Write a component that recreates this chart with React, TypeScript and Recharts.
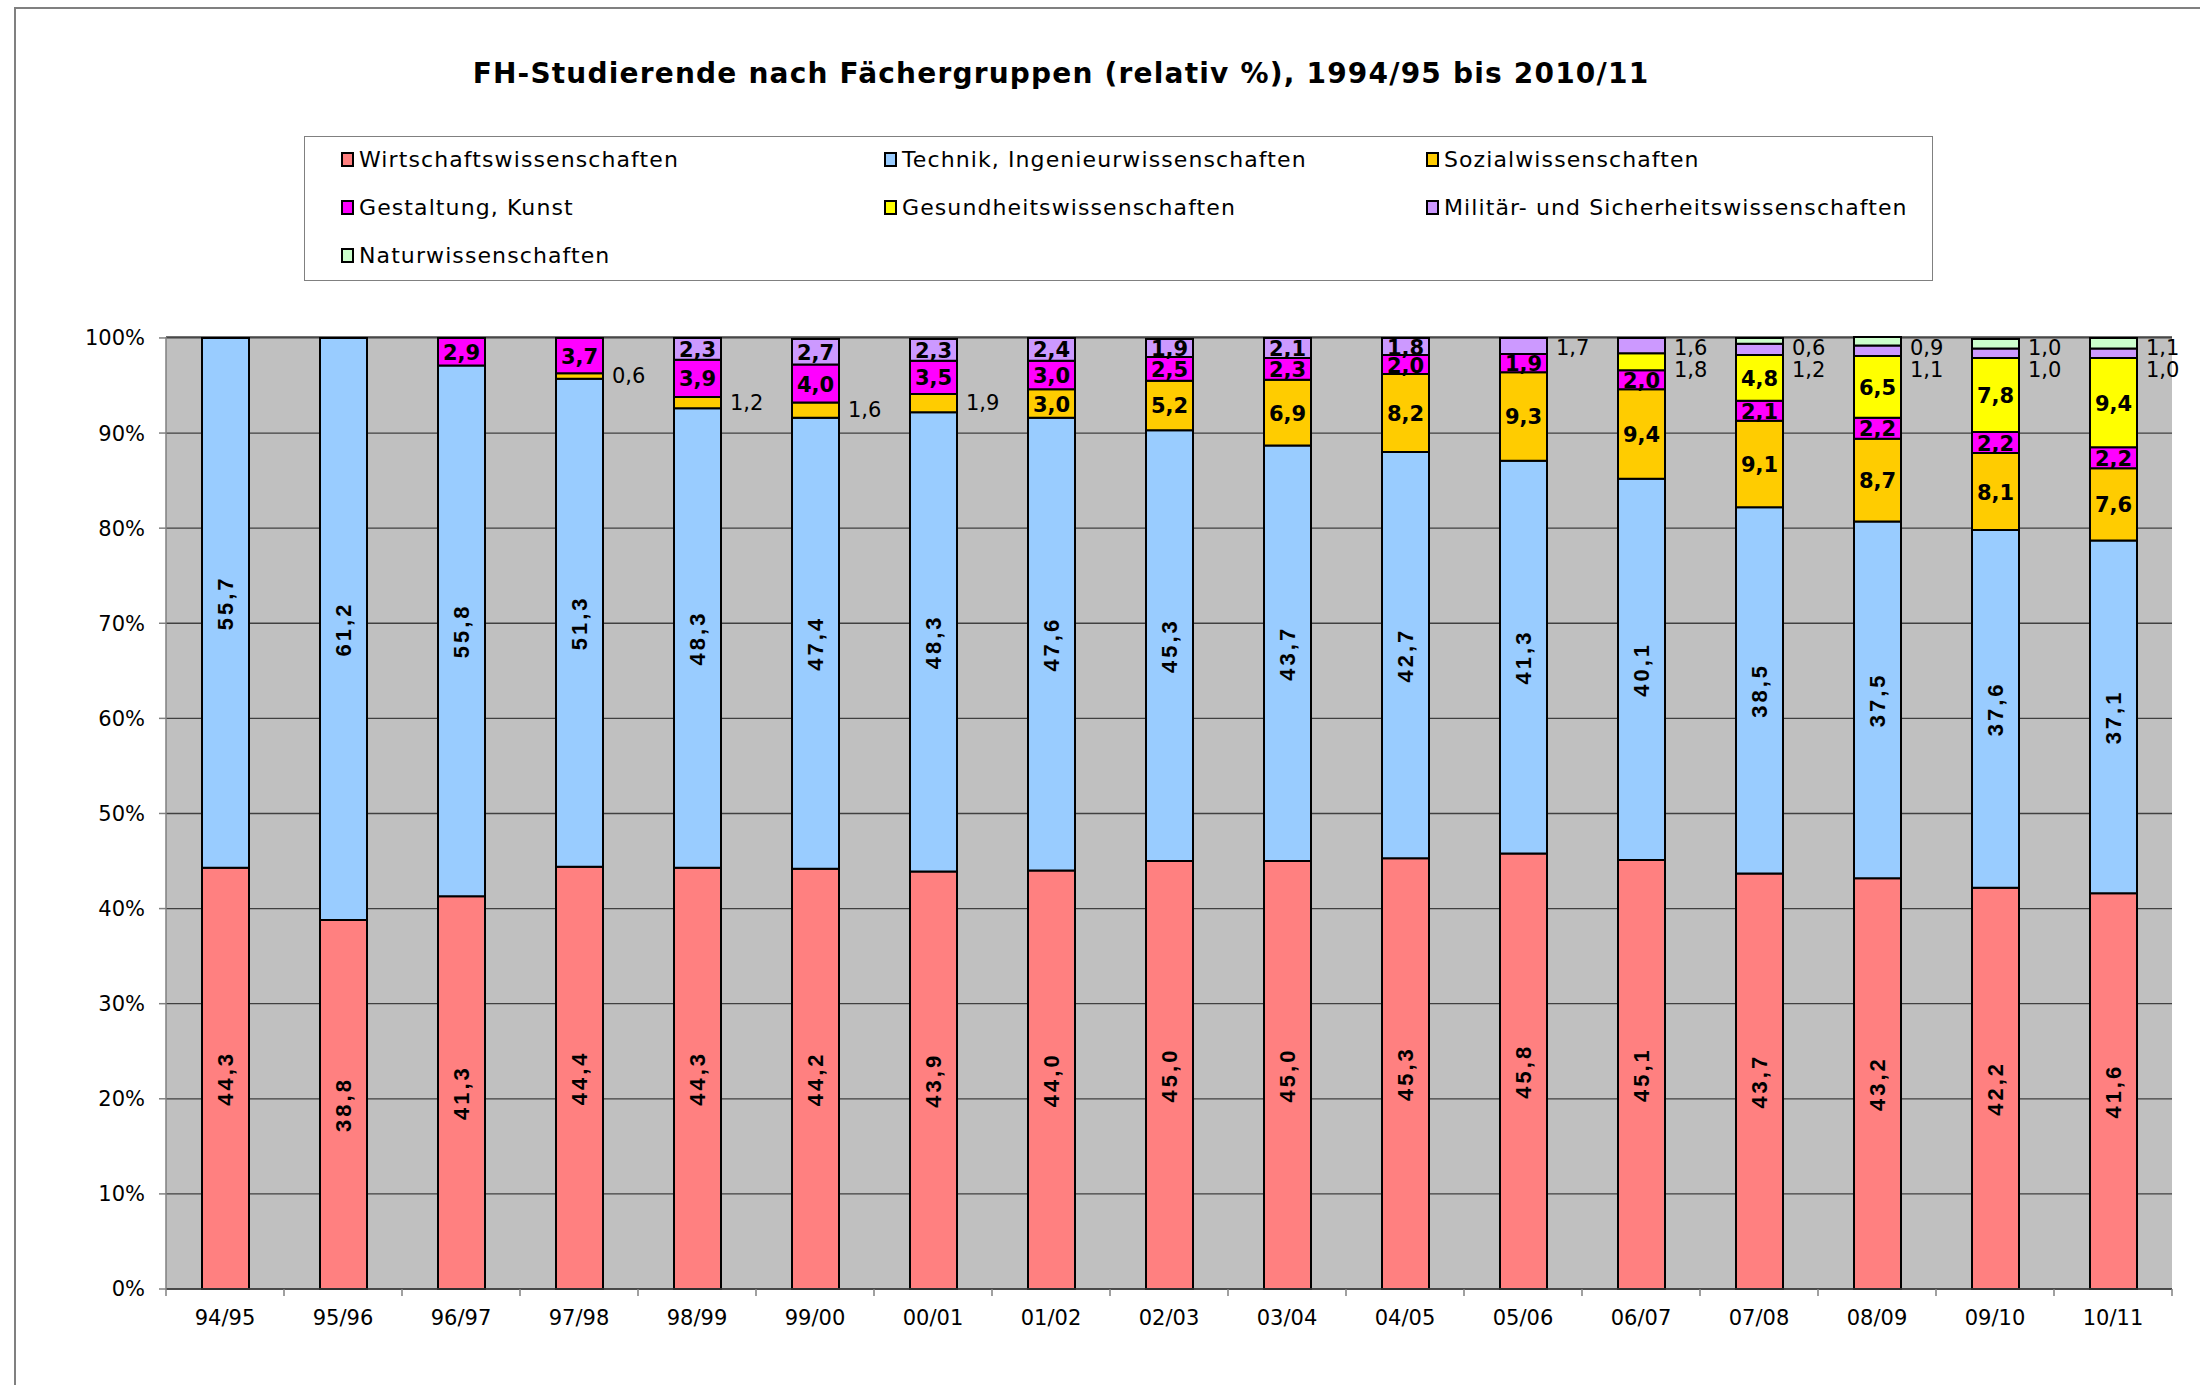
import React from "react";
import { BarChart, Bar, XAxis, YAxis, CartesianGrid, LabelList } from "recharts";

// Studienjahre
const categories = [
  "94/95", "95/96", "96/97", "97/98", "98/99", "99/00", "00/01", "01/02", "02/03",
  "03/04", "04/05", "05/06", "06/07", "07/08", "08/09", "09/10", "10/11",
];

// Anteile in % je Fächergruppe
const wirtschaft = [44.3, 38.8, 41.3, 44.4, 44.3, 44.2, 43.9, 44.0, 45.0, 45.0, 45.3, 45.8, 45.1, 43.7, 43.2, 42.2, 41.6];
const technik = [55.7, 61.2, 55.8, 51.3, 48.3, 47.4, 48.3, 47.6, 45.3, 43.7, 42.7, 41.3, 40.1, 38.5, 37.5, 37.6, 37.1];
const sozial = [0, 0, 0, 0.6, 1.2, 1.6, 1.9, 3.0, 5.2, 6.9, 8.2, 9.3, 9.4, 9.1, 8.7, 8.1, 7.6];
const gestaltung = [0, 0, 2.9, 3.7, 3.9, 4.0, 3.5, 3.0, 2.5, 2.3, 2.0, 1.9, 2.0, 2.1, 2.2, 2.2, 2.2];
const gesundheit = [0, 0, 0, 0, 0, 0, 0, 0, 0, 0, 0, 0, 1.8, 4.8, 6.5, 7.8, 9.4];
const militaer = [0, 0, 0, 0, 2.3, 2.7, 2.3, 2.4, 1.9, 2.1, 1.8, 1.7, 1.6, 1.2, 1.1, 1.0, 1.0];
const natur = [0, 0, 0, 0, 0, 0, 0, 0, 0, 0, 0, 0, 0, 0.6, 0.9, 1.0, 1.1];

const yTicks = [0, 10, 20, 30, 40, 50, 60, 70, 80, 90, 100];

// labels that sit to the right of the bar instead of inside
const outsideLabels: Record<string, string[]> = {
  sozial: ["97/98", "98/99", "99/00", "00/01"],
  gesundheit: ["06/07"],
  militaer: ["05/06", "06/07", "07/08", "08/09", "09/10", "10/11"],
  natur: ["07/08", "08/09", "09/10", "10/11"],
};

const series = [
  { key: "wirtschaft", name: "Wirtschaftswissenschaften", color: "#FF8080", values: wirtschaft, rotated: true },
  { key: "technik", name: "Technik, Ingenieurwissenschaften", color: "#99CCFF", values: technik, rotated: true },
  { key: "sozial", name: "Sozialwissenschaften", color: "#FFCC00", values: sozial },
  { key: "gestaltung", name: "Gestaltung, Kunst", color: "#FF00FF", values: gestaltung },
  { key: "gesundheit", name: "Gesundheitswissenschaften", color: "#FFFF00", values: gesundheit },
  { key: "militaer", name: "Militär- und Sicherheitswissenschaften", color: "#CC99FF", values: militaer },
  { key: "natur", name: "Naturwissenschaften", color: "#CCFFCC", values: natur },
];

const data = categories.map((cat, i) => {
  const row: Record<string, any> = { cat };
  series.forEach((s) => (row[s.key] = s.values[i]));
  return row;
});

const WIDTH = 2200;
const HEIGHT = 1385;
const PLOT_LEFT = 166;
const PLOT_RIGHT = 2172;
const PLOT_TOP = 337;
const PLOT_BOTTOM = 1289;
const BAND = (PLOT_RIGHT - PLOT_LEFT) / categories.length;

const FONT = "'DejaVu Sans', Verdana, sans-serif";
const fmt = (v: number) => v.toFixed(1).replace(".", ",");
const isOutside = (key: string, cat: string) => (outsideLabels[key] || []).includes(cat);

const makeLabel = (si: number) => (props: any) => {
  const vb = props.viewBox || props;
  const x = Number(vb.x);
  const y = Number(vb.y);
  const width = Number(vb.width);
  const height = Number(vb.height);
  if (!(height > 0)) return null;
  const cx = x + width / 2;
  const cy = y + height / 2;
  // zero-height bars are skipped by the label list, so find the category from the bar position
  const i = Math.min(categories.length - 1, Math.max(0, Math.floor((cx - PLOT_LEFT) / BAND)));
  const s = series[si];
  const v = s.values[i];
  if (!v) return null;
  const cat = categories[i];

  if (isOutside(s.key, cat)) {
    // place outside labels top-down, keeping them apart
    const unit = height / v;
    let cumBelow = 0;
    for (let j = 0; j < si; j++) cumBelow += series[j].values[i];
    const base = y + height + cumBelow * unit;
    const top = base - 100 * unit;
    let prev: number | null = null;
    let myY = cy;
    for (let j = series.length - 1; j >= 0; j--) {
      const vj = series[j].values[i];
      if (!vj || !isOutside(series[j].key, cat)) continue;
      let cum = 0;
      for (let k = 0; k <= j; k++) cum += series[k].values[i];
      const center = base - (cum - vj / 2) * unit;
      const yy = Math.max(center, prev === null ? top + 10 : prev + 22);
      prev = yy;
      if (j === si) {
        myY = yy;
        break;
      }
    }
    return (
      <text x={x + width + 9} y={myY} dominantBaseline="central" fontFamily={FONT} fontSize={21} fill="#000">
        {fmt(v)}
      </text>
    );
  }

  if (s.rotated) {
    return (
      <text
        x={cx}
        y={cy}
        transform={`rotate(-90 ${cx} ${cy})`}
        textAnchor="middle"
        dominantBaseline="central"
        fontFamily="'Liberation Sans', Arial, sans-serif"
        fontWeight="bold"
        fontSize={22}
        letterSpacing={3}
        fill="#000"
      >
        {fmt(v)}
      </text>
    );
  }

  return (
    <text x={cx} y={cy + 1} textAnchor="middle" dominantBaseline="central" fontFamily={FONT} fontWeight="bold" fontSize={21} fill="#000">
      {fmt(v)}
    </text>
  );
};

const XTick = (props: any) => {
  const { x, y, payload, index } = props;
  const last = index === categories.length - 1;
  return (
    <g>
      <line x1={x - BAND / 2} x2={x - BAND / 2} y1={y} y2={y + 7} stroke="#808080" strokeWidth={1.5} />
      {last && <line x1={x + BAND / 2} x2={x + BAND / 2} y1={y} y2={y + 7} stroke="#808080" strokeWidth={1.5} />}
      <text x={x} y={y + 29} textAnchor="middle" dominantBaseline="central" fontFamily={FONT} fontSize={21} fill="#000">
        {payload.value}
      </text>
    </g>
  );
};

const LegendBox = () => {
  const cols = [36, 579, 1121];
  const rows = [22, 70, 118];
  return (
    <div
      style={{
        position: "absolute",
        left: 304,
        top: 136,
        width: 1629,
        height: 145,
        border: "1.5px solid #808080",
        boxSizing: "border-box",
        background: "#fff",
      }}
    >
      {series.map((s, i) => (
        <div
          key={s.key}
          style={{
            position: "absolute",
            left: cols[i % 3],
            top: rows[Math.floor(i / 3)] - 14,
            height: 28,
            display: "flex",
            alignItems: "center",
            whiteSpace: "nowrap",
            fontFamily: FONT,
            fontSize: 22,
            letterSpacing: 1.1,
            color: "#000",
          }}
        >
          <span
            style={{
              display: "inline-block",
              width: 9,
              height: 11,
              background: s.color,
              border: "2px solid #000",
              marginRight: 5,
            }}
          />
          {s.name}
        </div>
      ))}
    </div>
  );
};

export default function App() {
  return (
    <div style={{ position: "absolute", left: 0, top: 0, width: WIDTH, height: HEIGHT, background: "#fff", overflow: "hidden" }}>
      <div
        style={{
          position: "absolute",
          left: 14,
          top: 7,
          width: WIDTH,
          height: HEIGHT,
          borderTop: "2px solid #808080",
          borderLeft: "2px solid #808080",
        }}
      />
      <div
        style={{
          position: "absolute",
          left: 0,
          width: 2122,
          top: 57,
          textAlign: "center",
          fontFamily: FONT,
          fontWeight: "bold",
          fontSize: 28,
          letterSpacing: 1.2,
          color: "#000",
        }}
      >
        FH-Studierende nach Fächergruppen (relativ %), 1994/95 bis 2010/11
      </div>
      <LegendBox />
      <div style={{ position: "absolute", left: 0, top: 0 }}>
        <BarChart
          width={WIDTH}
          height={HEIGHT}
          data={data}
          barSize={47}
          margin={{ top: PLOT_TOP, right: WIDTH - PLOT_RIGHT, bottom: HEIGHT - PLOT_BOTTOM - 60, left: PLOT_LEFT - 100 }}
        >
          <CartesianGrid vertical={false} fill="#C0C0C0" fillOpacity={1} stroke="#404040" strokeWidth={1.3} />
          <XAxis
            dataKey="cat"
            interval={0}
            height={60}
            tickSize={0}
            tickMargin={0}
            tickLine={false}
            axisLine={{ stroke: "#404040", strokeWidth: 1.5 }}
            tick={<XTick />}
          />
          <YAxis
            domain={[0, 100]}
            ticks={yTicks}
            width={100}
            tickSize={7}
            tickMargin={14}
            tickFormatter={(v: number) => `${v}%`}
            axisLine={{ stroke: "#808080", strokeWidth: 1.5 }}
            tickLine={{ stroke: "#808080", strokeWidth: 1.5 }}
            tick={{ fontFamily: FONT, fontSize: 21, fill: "#000" }}
          />
          <YAxis
            yAxisId="r"
            orientation="right"
            domain={[0, 100]}
            width={0}
            tick={false}
            tickLine={false}
            axisLine={{ stroke: "#808080", strokeWidth: 1.5 }}
          />
          {series.map((s, si) => (
            <Bar
              key={s.key}
              dataKey={s.key}
              name={s.name}
              stackId="a"
              fill={s.color}
              stroke="#000"
              strokeWidth={2}
              isAnimationActive={false}
            >
              <LabelList dataKey={s.key} content={makeLabel(si)} />
            </Bar>
          ))}
        </BarChart>
      </div>
    </div>
  );
}
